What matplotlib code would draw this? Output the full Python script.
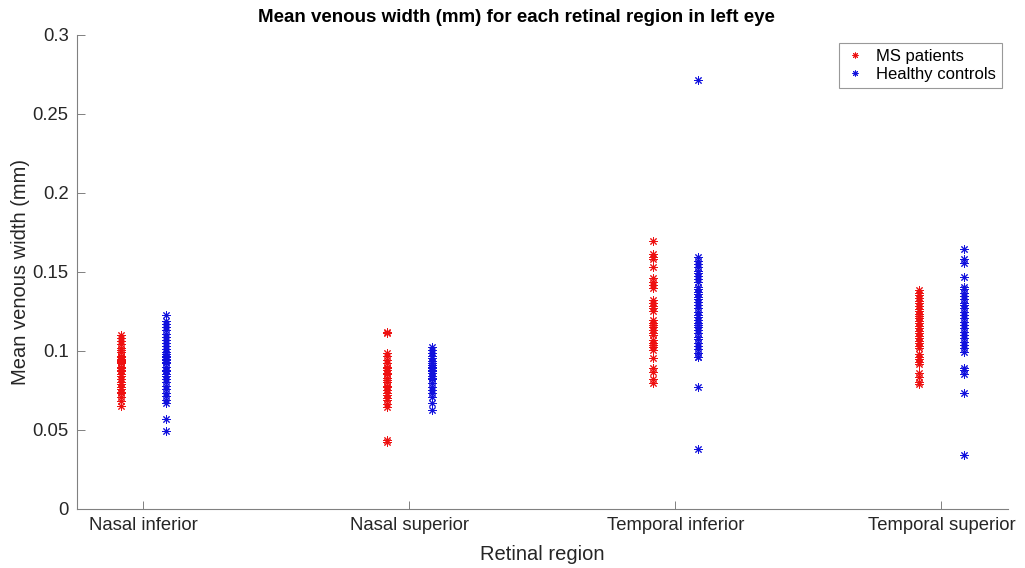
import matplotlib
matplotlib.use("Agg")
import matplotlib.pyplot as plt
import numpy as np

plt.rcParams['font.family'] = ['Liberation Sans', 'DejaVu Sans']

regions = ["Nasal inferior", "Nasal superior", "Temporal inferior", "Temporal superior"]
series_names = ["MS patients", "Healthy controls"]

ms_nasal_inf = [0.110, 0.108, 0.106, 0.104, 0.102, 0.1005, 0.099, 0.097, 0.096, 0.0963,
                0.095, 0.094, 0.093, 0.0935, 0.092, 0.090, 0.089, 0.088, 0.087, 0.085,
                0.084, 0.082, 0.080, 0.079, 0.077, 0.076, 0.074, 0.073, 0.0705, 0.068, 0.065]
hc_nasal_inf = [0.1227, 0.119, 0.117, 0.115, 0.113, 0.1105, 0.109, 0.107, 0.105, 0.103,
                0.101, 0.0995, 0.098, 0.097, 0.096, 0.095, 0.094, 0.093, 0.092, 0.090,
                0.088, 0.087, 0.085, 0.084, 0.082, 0.080, 0.078, 0.0755, 0.0735, 0.0715,
                0.069, 0.0667, 0.0566, 0.0492]
ms_nasal_sup = [0.1117, 0.111, 0.0984, 0.0967, 0.094, 0.092, 0.090, 0.089, 0.088, 0.086,
                0.085, 0.083, 0.0815, 0.080, 0.078, 0.077, 0.075, 0.0735, 0.072, 0.070,
                0.069, 0.0663, 0.0642, 0.0435, 0.0425]
hc_nasal_sup = [0.1026, 0.1005, 0.0984, 0.097, 0.0955, 0.0937, 0.092, 0.091, 0.090, 0.089,
                0.088, 0.087, 0.086, 0.0842, 0.083, 0.082, 0.0794, 0.0773, 0.0751, 0.0731,
                0.0705, 0.0667, 0.0625]
ms_temp_inf = [0.1697, 0.1613, 0.1596, 0.1579, 0.1533, 0.1459, 0.1438, 0.1417, 0.1396, 0.1322,
               0.1301, 0.1284, 0.1269, 0.1254, 0.1195, 0.1178, 0.1163, 0.1149, 0.1132, 0.1115,
               0.1100, 0.1068, 0.1051, 0.1037, 0.1022, 0.1005, 0.0952, 0.0889, 0.0868, 0.0819,
               0.0798]
hc_temp_inf = [0.2715, 0.1592, 0.1571, 0.1550, 0.1529, 0.1507, 0.1491, 0.1474, 0.1453, 0.1438,
               0.1406, 0.1389, 0.1374, 0.1360, 0.1343, 0.1326, 0.1311, 0.1290, 0.1269, 0.1248,
               0.1227, 0.1212, 0.1195, 0.1178, 0.1163, 0.1149, 0.1132, 0.1111, 0.1089, 0.1073,
               0.1051, 0.1030, 0.1009, 0.0984, 0.0963, 0.0960, 0.0773, 0.0376]
ms_temp_sup = [0.1385, 0.1368, 0.1351, 0.1332, 0.1317, 0.1301, 0.1284, 0.1267, 0.1250, 0.1233,
               0.1220, 0.1206, 0.1191, 0.1174, 0.1157, 0.1142, 0.1128, 0.1111, 0.1094, 0.1079,
               0.1064, 0.1047, 0.1030, 0.1016, 0.0980, 0.0963, 0.0946, 0.0931, 0.0916, 0.0857,
               0.0836, 0.0804, 0.0790]
hc_temp_sup = [0.1643, 0.1579, 0.1558, 0.1465, 0.1406, 0.1389, 0.1368, 0.1347, 0.1326, 0.1305,
               0.1288, 0.1269, 0.1248, 0.1227, 0.1206, 0.1184, 0.1163, 0.1142, 0.1121, 0.1100,
               0.1079, 0.1058, 0.1037, 0.1016, 0.0994, 0.0889, 0.0876, 0.0853, 0.0735, 0.0340]

ms_groups = [ms_nasal_inf, ms_nasal_sup, ms_temp_inf, ms_temp_sup]
hc_groups = [hc_nasal_inf, hc_nasal_sup, hc_temp_inf, hc_temp_sup]

fig = plt.figure(figsize=(10.25, 5.68), dpi=100)
ax = fig.add_axes([0.0751, 0.1044, 0.9083, 0.834])

offset = 0.083
axcol = (0.15, 0.15, 0.15)
star = (8, 2, 0)
for i, (ms, hc) in enumerate(zip(ms_groups, hc_groups)):
    pos = i + 1
    ax.plot(np.full(len(ms), pos - offset), ms, linestyle='none', marker=star,
            markersize=6, markeredgewidth=0.7, color='#ee1111',
            label=series_names[0] if i == 0 else None)
    ax.plot(np.full(len(hc), pos + offset), hc, linestyle='none', marker=star,
            markersize=6, markeredgewidth=0.7, color='#1111dd',
            label=series_names[1] if i == 0 else None)

ax.set_xlim(0.75, 4.25)
ax.set_ylim(0, 0.3)
ax.set_xticks([1, 2, 3, 4])
ax.set_xticklabels(regions)
yt = [0, 0.05, 0.1, 0.15, 0.2, 0.25, 0.3]
ax.set_yticks(yt)
ax.set_yticklabels(["0", "0.05", "0.1", "0.15", "0.2", "0.25", "0.3"])
ax.tick_params(direction='in', length=6, width=0.7, labelsize=13.3, pad=6,
               color=(0.5, 0.5, 0.5), labelcolor=axcol)
for s in ['top', 'right']:
    ax.spines[s].set_visible(False)
for s in ['left', 'bottom']:
    ax.spines[s].set_color((0.5, 0.5, 0.5))
    ax.spines[s].set_linewidth(0.8)

ax.set_title("Mean venous width (mm) for each retinal region in left eye",
             fontsize=13.5, fontweight='bold', pad=9.5, color='black', x=0.4715)
ax.set_xlabel("Retinal region", fontsize=14.5, color=axcol, labelpad=8)
ax.set_ylabel("Mean venous width (mm)", fontsize=14.5, color=axcol, labelpad=1.5)

leg = ax.legend(loc='upper right', bbox_to_anchor=(0.9936, 0.983), borderaxespad=0,
                fontsize=12, frameon=True, fancybox=False, edgecolor=(0.5, 0.5, 0.5),
                handlelength=1.3, handletextpad=0.6, borderpad=0.35, labelspacing=0.2,
                markerscale=0.7)
leg.get_frame().set_linewidth(0.8)

fig.savefig("out.png", dpi=100)
